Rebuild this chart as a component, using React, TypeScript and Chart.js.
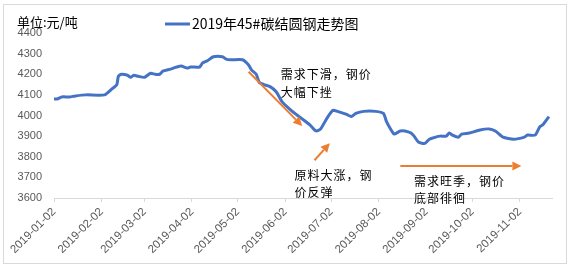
import React, { useEffect, useRef } from "react";
import { Chart, registerables } from "chart.js";

Chart.register(...registerables);

const seriesName = "2019年45#碳结圆钢走势图";
const unitLabel = "单位:元/吨";

const dates = [
  "2019-01-02", "2019-01-04", "2019-01-07", "2019-01-12", "2019-01-16", "2019-01-23",
  "2019-02-04", "2019-02-09", "2019-02-12", "2019-02-13", "2019-02-15", "2019-02-19",
  "2019-02-21", "2019-02-23", "2019-02-26", "2019-03-02", "2019-03-06", "2019-03-09",
  "2019-03-12", "2019-03-14", "2019-03-19", "2019-03-23", "2019-03-26", "2019-03-30",
  "2019-04-01", "2019-04-07", "2019-04-09", "2019-04-12", "2019-04-16", "2019-04-22",
  "2019-04-24", "2019-04-27", "2019-05-05", "2019-05-09", "2019-05-11", "2019-05-14",
  "2019-05-16", "2019-05-19", "2019-05-23", "2019-05-27", "2019-05-31", "2019-06-05",
  "2019-06-10", "2019-06-18", "2019-06-22", "2019-06-25", "2019-06-29", "2019-07-03",
  "2019-07-06", "2019-07-12", "2019-07-15", "2019-07-18", "2019-07-23", "2019-07-31",
  "2019-08-05", "2019-08-07", "2019-08-10", "2019-08-12", "2019-08-16", "2019-08-19",
  "2019-08-23", "2019-08-25", "2019-08-28", "2019-09-01", "2019-09-04", "2019-09-08",
  "2019-09-11", "2019-09-15", "2019-09-17", "2019-09-19", "2019-09-23", "2019-09-25",
  "2019-09-30", "2019-10-07", "2019-10-13", "2019-10-17", "2019-10-22", "2019-10-29",
  "2019-11-05", "2019-11-07", "2019-11-12", "2019-11-15", "2019-11-17", "2019-11-21",
];

const prices = [
  4080, 4080, 4090, 4090, 4095, 4100,
  4100, 4130, 4150, 4190, 4200, 4195,
  4185, 4195, 4190, 4185, 4205, 4200,
  4200, 4215, 4225, 4235, 4240, 4230,
  4235, 4235, 4255, 4265, 4285, 4285,
  4275, 4270, 4270, 4245, 4220, 4200,
  4160, 4150, 4140, 4115, 4065, 4030,
  4000, 3955, 3925, 3935, 3985, 4025,
  4020, 4005, 3995, 4010, 4020, 4020,
  4010, 3970, 3930, 3910, 3925, 3925,
  3915, 3900, 3870, 3865, 3885, 3895,
  3900, 3900, 3915, 3905, 3895, 3910,
  3915, 3930, 3935, 3925, 3895, 3885,
  3895, 3905, 3905, 3945, 3955, 3995,
];

const tickDates = [
  "2019-01-02", "2019-02-02", "2019-03-02", "2019-04-02", "2019-05-02", "2019-06-02",
  "2019-07-02", "2019-08-02", "2019-09-02", "2019-10-02", "2019-11-02",
];
const axisEndDate = "2019-11-23";
const yMin = 3600;
const yMax = 4400;
const yStep = 100;

// annotations (in data coordinates: date, price)
const arrowFromDates = ["2019-05-09", "2019-06-21", "2019-08-16"];
const arrowFromPrices = [4212, 3783, 3755];
const arrowToDates = ["2019-06-13", "2019-07-01", "2019-11-03"];
const arrowToPrices = [3949, 3866, 3755];

const noteLines = [
  ["需求下滑，钢价", "大幅下挫"],
  ["原料大涨，钢", "价反弹"],
  ["需求旺季，钢价", "底部徘徊"],
];
const noteDates = ["2019-05-30", "2019-06-08", "2019-08-25"];
const notePrices = [4198, 3710, 3682];
const noteLineStep = -85;

const dayOf = (s: string) => {
  const [y, m, d] = s.split("-").map(Number);
  const [y0, m0, d0] = dates[0].split("-").map(Number);
  return Math.round((Date.UTC(y, m - 1, d) - Date.UTC(y0, m0 - 1, d0)) / 86400000);
};

const BLUE = "#4472C4";
const ORANGE = "#ED7D31";
const GRAY = "#595959";
const LINEGRAY = "#D9D9D9";
const CJK = '"Noto Sans CJK SC", "Liberation Sans", sans-serif';

export default function App() {
  const ref = useRef<HTMLCanvasElement | null>(null);

  useEffect(() => {
    if (!ref.current) return;
    const tickDays = tickDates.map(dayOf);

    const deco = {
      id: "deco",
      beforeDraw(chart: any) {
        const ctx = chart.ctx;
        ctx.save();
        ctx.fillStyle = "#ffffff";
        ctx.fillRect(0, 0, chart.width, chart.height);
        ctx.strokeStyle = LINEGRAY;
        ctx.lineWidth = 1;
        ctx.strokeRect(3.5, 4.5, 563, 259);
        ctx.restore();
      },
      afterDraw(chart: any) {
        const ctx = chart.ctx;
        const xs = chart.scales.x;
        const ys = chart.scales.y;
        ctx.save();
        // header
        ctx.fillStyle = "#000";
        ctx.textBaseline = "middle";
        ctx.textAlign = "left";
        ctx.font = `13px ${CJK}`;
        ctx.fillText(unitLabel, 17, 22);
        ctx.strokeStyle = BLUE;
        ctx.lineWidth = 3;
        ctx.beginPath();
        ctx.moveTo(165, 24);
        ctx.lineTo(190, 24);
        ctx.stroke();
        ctx.font = `14px ${CJK}`;
        ctx.fillText(seriesName, 192, 24);

        // arrows
        ctx.strokeStyle = ORANGE;
        ctx.fillStyle = ORANGE;
        ctx.lineWidth = 2;
        for (let i = 0; i < arrowFromDates.length; i++) {
          const x1 = xs.getPixelForValue(dayOf(arrowFromDates[i]));
          const y1 = ys.getPixelForValue(arrowFromPrices[i]);
          const x2 = xs.getPixelForValue(dayOf(arrowToDates[i]));
          const y2 = ys.getPixelForValue(arrowToPrices[i]);
          const a = Math.atan2(y2 - y1, x2 - x1);
          const hl = 9;
          const hw = 4.5;
          const bx = x2 - hl * Math.cos(a);
          const by = y2 - hl * Math.sin(a);
          ctx.beginPath();
          ctx.moveTo(x1, y1);
          ctx.lineTo(bx, by);
          ctx.stroke();
          ctx.beginPath();
          ctx.moveTo(x2, y2);
          ctx.lineTo(bx + hw * Math.sin(a), by - hw * Math.cos(a));
          ctx.lineTo(bx - hw * Math.sin(a), by + hw * Math.cos(a));
          ctx.closePath();
          ctx.fill();
        }

        // notes
        ctx.fillStyle = "#000";
        ctx.font = `12px ${CJK}`;
        (ctx as any).letterSpacing = "1px";
        ctx.textAlign = "left";
        ctx.textBaseline = "middle";
        for (let i = 0; i < noteLines.length; i++) {
          const x = xs.getPixelForValue(dayOf(noteDates[i]));
          noteLines[i].forEach((t, j) => {
            const y = ys.getPixelForValue(notePrices[i] + j * noteLineStep);
            ctx.fillText(t, x, y);
          });
        }
        ctx.restore();
      },
    };

    const chart = new Chart(ref.current, {
      type: "line",
      data: {
        datasets: [
          {
            label: seriesName,
            data: dates.map((d, i) => ({ x: dayOf(d), y: prices[i] })),
            borderColor: BLUE,
            borderWidth: 3,
            pointRadius: 0,
            tension: 0.2,
            fill: false,
          },
        ],
      },
      options: {
        animation: false,
        responsive: false,
        layout: { padding: { left: 0, top: 33, right: 18, bottom: 0 } },
        plugins: {
          legend: { display: false },
          title: { display: false },
          tooltip: { enabled: false },
        },
        scales: {
          x: {
            type: "linear",
            min: 0,
            max: dayOf(axisEndDate),
            afterBuildTicks: (scale: any) => {
              scale.ticks = tickDays.map((v) => ({ value: v }));
            },
            afterFit: (scale: any) => {
              scale.height = 69;
            },
            ticks: {
              autoSkip: false,
              minRotation: 45,
              maxRotation: 45,
              color: GRAY,
              padding: 3,
              font: { family: '"Liberation Sans", Arial, sans-serif', size: 11.5 },
              callback: (_v: any, i: number) => tickDates[i],
            },
            grid: {
              display: true,
              drawOnChartArea: false,
              drawTicks: true,
              tickLength: 4,
              color: LINEGRAY,
            },
            border: { display: true, color: LINEGRAY, width: 1 },
          },
          y: {
            min: yMin,
            max: yMax,
            afterFit: (scale: any) => {
              scale.width = 54;
            },
            ticks: {
              stepSize: yStep,
              color: GRAY,
              padding: 12,
              font: { family: '"Liberation Sans", Arial, sans-serif', size: 11 },
              callback: (v: any) => String(v),
            },
            grid: { display: false, drawTicks: false },
            border: { display: false },
          },
        },
      },
      plugins: [deco],
    } as any);

    return () => chart.destroy();
  }, []);

  return (
    <div style={{ position: "absolute", left: 0, top: 0, width: 570, height: 267 }}>
      <canvas ref={ref} width={570} height={267} style={{ display: "block" }} />
    </div>
  );
}
